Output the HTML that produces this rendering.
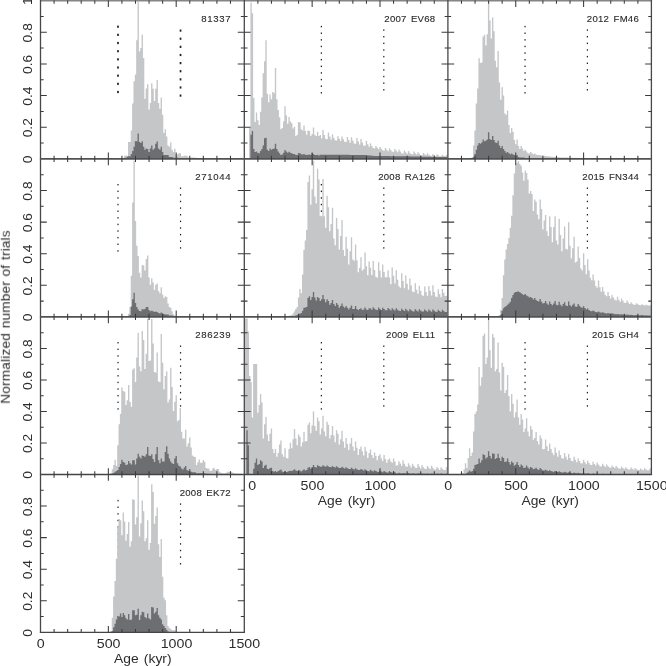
<!DOCTYPE html>
<html><head><meta charset="utf-8"><title>Age histograms</title>
<style>html,body{margin:0;padding:0;background:#fff;}svg{display:block;}text{font-family:"Liberation Sans",sans-serif;fill:#2b2b2d;}</style></head>
<body>
<svg width="666" height="666" viewBox="0 0 666 666">
<rect x="0" y="0" width="666" height="666" fill="#ffffff"/>
<g id="dots" fill="#1f1f21">
<rect x="117.13" y="25.6" width="1.7" height="2.2"/><rect x="117.13" y="33.76" width="1.7" height="2.2"/><rect x="117.13" y="41.92" width="1.7" height="2.2"/><rect x="117.13" y="50.09" width="1.7" height="2.2"/><rect x="117.13" y="58.25" width="1.7" height="2.2"/><rect x="117.13" y="66.41" width="1.7" height="2.2"/><rect x="117.13" y="74.58" width="1.7" height="2.2"/><rect x="117.13" y="82.74" width="1.7" height="2.2"/><rect x="117.13" y="90.9" width="1.7" height="2.2"/><rect x="179.69" y="29.5" width="1.7" height="2.2"/><rect x="179.69" y="37.62" width="1.7" height="2.2"/><rect x="179.69" y="45.75" width="1.7" height="2.2"/><rect x="179.69" y="53.88" width="1.7" height="2.2"/><rect x="179.69" y="62" width="1.7" height="2.2"/><rect x="179.69" y="70.12" width="1.7" height="2.2"/><rect x="179.69" y="78.25" width="1.7" height="2.2"/><rect x="179.69" y="86.38" width="1.7" height="2.2"/><rect x="179.69" y="94.5" width="1.7" height="2.2"/>
<rect x="320.78" y="25.88" width="1.2" height="1.45"/><rect x="320.78" y="32.49" width="1.2" height="1.45"/><rect x="320.78" y="39.12" width="1.2" height="1.45"/><rect x="320.78" y="45.73" width="1.2" height="1.45"/><rect x="320.78" y="52.35" width="1.2" height="1.45"/><rect x="320.78" y="58.97" width="1.2" height="1.45"/><rect x="320.78" y="65.59" width="1.2" height="1.45"/><rect x="320.78" y="72.22" width="1.2" height="1.45"/><rect x="320.78" y="78.84" width="1.2" height="1.45"/><rect x="320.78" y="85.46" width="1.2" height="1.45"/><rect x="320.78" y="92.07" width="1.2" height="1.45"/><rect x="383.2" y="29.38" width="1.2" height="1.45"/><rect x="383.2" y="36.01" width="1.2" height="1.45"/><rect x="383.2" y="42.64" width="1.2" height="1.45"/><rect x="383.2" y="49.27" width="1.2" height="1.45"/><rect x="383.2" y="55.91" width="1.2" height="1.45"/><rect x="383.2" y="62.54" width="1.2" height="1.45"/><rect x="383.2" y="69.18" width="1.2" height="1.45"/><rect x="383.2" y="75.81" width="1.2" height="1.45"/><rect x="383.2" y="82.44" width="1.2" height="1.45"/><rect x="383.2" y="89.08" width="1.2" height="1.45"/>
<rect x="524.45" y="25.88" width="1.2" height="1.45"/><rect x="524.45" y="32.49" width="1.2" height="1.45"/><rect x="524.45" y="39.12" width="1.2" height="1.45"/><rect x="524.45" y="45.73" width="1.2" height="1.45"/><rect x="524.45" y="52.35" width="1.2" height="1.45"/><rect x="524.45" y="58.97" width="1.2" height="1.45"/><rect x="524.45" y="65.59" width="1.2" height="1.45"/><rect x="524.45" y="72.22" width="1.2" height="1.45"/><rect x="524.45" y="78.84" width="1.2" height="1.45"/><rect x="524.45" y="85.46" width="1.2" height="1.45"/><rect x="524.45" y="92.07" width="1.2" height="1.45"/><rect x="586.8" y="29.38" width="1.2" height="1.45"/><rect x="586.8" y="36.01" width="1.2" height="1.45"/><rect x="586.8" y="42.64" width="1.2" height="1.45"/><rect x="586.8" y="49.27" width="1.2" height="1.45"/><rect x="586.8" y="55.91" width="1.2" height="1.45"/><rect x="586.8" y="62.54" width="1.2" height="1.45"/><rect x="586.8" y="69.18" width="1.2" height="1.45"/><rect x="586.8" y="75.81" width="1.2" height="1.45"/><rect x="586.8" y="82.44" width="1.2" height="1.45"/><rect x="586.8" y="89.08" width="1.2" height="1.45"/>
<rect x="117.38" y="183.97" width="1.2" height="1.45"/><rect x="117.38" y="190.59" width="1.2" height="1.45"/><rect x="117.38" y="197.22" width="1.2" height="1.45"/><rect x="117.38" y="203.83" width="1.2" height="1.45"/><rect x="117.38" y="210.45" width="1.2" height="1.45"/><rect x="117.38" y="217.07" width="1.2" height="1.45"/><rect x="117.38" y="223.69" width="1.2" height="1.45"/><rect x="117.38" y="230.31" width="1.2" height="1.45"/><rect x="117.38" y="236.93" width="1.2" height="1.45"/><rect x="117.38" y="243.55" width="1.2" height="1.45"/><rect x="117.38" y="250.17" width="1.2" height="1.45"/><rect x="179.94" y="187.47" width="1.2" height="1.45"/><rect x="179.94" y="194.11" width="1.2" height="1.45"/><rect x="179.94" y="200.74" width="1.2" height="1.45"/><rect x="179.94" y="207.38" width="1.2" height="1.45"/><rect x="179.94" y="214.01" width="1.2" height="1.45"/><rect x="179.94" y="220.64" width="1.2" height="1.45"/><rect x="179.94" y="227.28" width="1.2" height="1.45"/><rect x="179.94" y="233.91" width="1.2" height="1.45"/><rect x="179.94" y="240.54" width="1.2" height="1.45"/><rect x="179.94" y="247.17" width="1.2" height="1.45"/>
<rect x="320.78" y="183.97" width="1.2" height="1.45"/><rect x="320.78" y="190.59" width="1.2" height="1.45"/><rect x="320.78" y="197.22" width="1.2" height="1.45"/><rect x="320.78" y="203.83" width="1.2" height="1.45"/><rect x="320.78" y="210.45" width="1.2" height="1.45"/><rect x="320.78" y="217.07" width="1.2" height="1.45"/><rect x="320.78" y="223.69" width="1.2" height="1.45"/><rect x="320.78" y="230.31" width="1.2" height="1.45"/><rect x="320.78" y="236.93" width="1.2" height="1.45"/><rect x="320.78" y="243.55" width="1.2" height="1.45"/><rect x="320.78" y="250.17" width="1.2" height="1.45"/><rect x="383.2" y="187.47" width="1.2" height="1.45"/><rect x="383.2" y="194.11" width="1.2" height="1.45"/><rect x="383.2" y="200.74" width="1.2" height="1.45"/><rect x="383.2" y="207.38" width="1.2" height="1.45"/><rect x="383.2" y="214.01" width="1.2" height="1.45"/><rect x="383.2" y="220.64" width="1.2" height="1.45"/><rect x="383.2" y="227.28" width="1.2" height="1.45"/><rect x="383.2" y="233.91" width="1.2" height="1.45"/><rect x="383.2" y="240.54" width="1.2" height="1.45"/><rect x="383.2" y="247.17" width="1.2" height="1.45"/>
<rect x="586.8" y="187.47" width="1.2" height="1.45"/><rect x="586.8" y="194.11" width="1.2" height="1.45"/><rect x="586.8" y="200.74" width="1.2" height="1.45"/><rect x="586.8" y="207.38" width="1.2" height="1.45"/><rect x="586.8" y="214.01" width="1.2" height="1.45"/><rect x="586.8" y="220.64" width="1.2" height="1.45"/><rect x="586.8" y="227.28" width="1.2" height="1.45"/><rect x="586.8" y="233.91" width="1.2" height="1.45"/><rect x="586.8" y="240.54" width="1.2" height="1.45"/><rect x="586.8" y="247.17" width="1.2" height="1.45"/>
<rect x="117.45" y="341.98" width="1.2" height="1.45"/><rect x="117.45" y="348.6" width="1.2" height="1.45"/><rect x="117.45" y="355.22" width="1.2" height="1.45"/><rect x="117.45" y="361.84" width="1.2" height="1.45"/><rect x="117.45" y="368.46" width="1.2" height="1.45"/><rect x="117.45" y="375.08" width="1.2" height="1.45"/><rect x="117.45" y="381.69" width="1.2" height="1.45"/><rect x="117.45" y="388.31" width="1.2" height="1.45"/><rect x="117.45" y="394.94" width="1.2" height="1.45"/><rect x="117.45" y="401.56" width="1.2" height="1.45"/><rect x="117.45" y="408.18" width="1.2" height="1.45"/><rect x="179.94" y="345.48" width="1.2" height="1.45"/><rect x="179.94" y="352.11" width="1.2" height="1.45"/><rect x="179.94" y="358.74" width="1.2" height="1.45"/><rect x="179.94" y="365.38" width="1.2" height="1.45"/><rect x="179.94" y="372.01" width="1.2" height="1.45"/><rect x="179.94" y="378.64" width="1.2" height="1.45"/><rect x="179.94" y="385.28" width="1.2" height="1.45"/><rect x="179.94" y="391.91" width="1.2" height="1.45"/><rect x="179.94" y="398.54" width="1.2" height="1.45"/><rect x="179.94" y="405.18" width="1.2" height="1.45"/>
<rect x="320.78" y="341.98" width="1.2" height="1.45"/><rect x="320.78" y="348.6" width="1.2" height="1.45"/><rect x="320.78" y="355.22" width="1.2" height="1.45"/><rect x="320.78" y="361.84" width="1.2" height="1.45"/><rect x="320.78" y="368.46" width="1.2" height="1.45"/><rect x="320.78" y="375.08" width="1.2" height="1.45"/><rect x="320.78" y="381.69" width="1.2" height="1.45"/><rect x="320.78" y="388.31" width="1.2" height="1.45"/><rect x="320.78" y="394.94" width="1.2" height="1.45"/><rect x="320.78" y="401.56" width="1.2" height="1.45"/><rect x="320.78" y="408.18" width="1.2" height="1.45"/><rect x="383.2" y="345.48" width="1.2" height="1.45"/><rect x="383.2" y="352.11" width="1.2" height="1.45"/><rect x="383.2" y="358.74" width="1.2" height="1.45"/><rect x="383.2" y="365.38" width="1.2" height="1.45"/><rect x="383.2" y="372.01" width="1.2" height="1.45"/><rect x="383.2" y="378.64" width="1.2" height="1.45"/><rect x="383.2" y="385.28" width="1.2" height="1.45"/><rect x="383.2" y="391.91" width="1.2" height="1.45"/><rect x="383.2" y="398.54" width="1.2" height="1.45"/><rect x="383.2" y="405.18" width="1.2" height="1.45"/>
<rect x="524.45" y="341.98" width="1.2" height="1.45"/><rect x="524.45" y="348.6" width="1.2" height="1.45"/><rect x="524.45" y="355.22" width="1.2" height="1.45"/><rect x="524.45" y="361.84" width="1.2" height="1.45"/><rect x="524.45" y="368.46" width="1.2" height="1.45"/><rect x="524.45" y="375.08" width="1.2" height="1.45"/><rect x="524.45" y="381.69" width="1.2" height="1.45"/><rect x="524.45" y="388.31" width="1.2" height="1.45"/><rect x="524.45" y="394.94" width="1.2" height="1.45"/><rect x="524.45" y="401.56" width="1.2" height="1.45"/><rect x="524.45" y="408.18" width="1.2" height="1.45"/><rect x="586.8" y="345.48" width="1.2" height="1.45"/><rect x="586.8" y="352.11" width="1.2" height="1.45"/><rect x="586.8" y="358.74" width="1.2" height="1.45"/><rect x="586.8" y="365.38" width="1.2" height="1.45"/><rect x="586.8" y="372.01" width="1.2" height="1.45"/><rect x="586.8" y="378.64" width="1.2" height="1.45"/><rect x="586.8" y="385.28" width="1.2" height="1.45"/><rect x="586.8" y="391.91" width="1.2" height="1.45"/><rect x="586.8" y="398.54" width="1.2" height="1.45"/><rect x="586.8" y="405.18" width="1.2" height="1.45"/>
<rect x="117.45" y="499.88" width="1.2" height="1.45"/><rect x="117.45" y="506.5" width="1.2" height="1.45"/><rect x="117.45" y="513.12" width="1.2" height="1.45"/><rect x="117.45" y="519.74" width="1.2" height="1.45"/><rect x="117.45" y="526.36" width="1.2" height="1.45"/><rect x="117.45" y="532.98" width="1.2" height="1.45"/><rect x="117.45" y="539.6" width="1.2" height="1.45"/><rect x="117.45" y="546.22" width="1.2" height="1.45"/><rect x="117.45" y="552.84" width="1.2" height="1.45"/><rect x="117.45" y="559.46" width="1.2" height="1.45"/><rect x="117.45" y="566.07" width="1.2" height="1.45"/><rect x="179.94" y="503.38" width="1.2" height="1.45"/><rect x="179.94" y="510.01" width="1.2" height="1.45"/><rect x="179.94" y="516.64" width="1.2" height="1.45"/><rect x="179.94" y="523.27" width="1.2" height="1.45"/><rect x="179.94" y="529.91" width="1.2" height="1.45"/><rect x="179.94" y="536.54" width="1.2" height="1.45"/><rect x="179.94" y="543.17" width="1.2" height="1.45"/><rect x="179.94" y="549.81" width="1.2" height="1.45"/><rect x="179.94" y="556.44" width="1.2" height="1.45"/><rect x="179.94" y="563.08" width="1.2" height="1.45"/>
</g>
<g id="hist" shape-rendering="auto">
<path fill="#c5c6c8" d="M121.24 158.9V158H122.6V158H123.96V155.7H125.31V155.7H126.67V155.7H128.03V141.9H129.38V141.9H130.74V130.5H132.1V103.6H133.46V81.2H134.81V74.6H136.17V40.2H137.53V2H138.88V51.6H140.24V48H141.6V34.8H142.95V58H144.31V98.7H145.67V88.5H147.03V84.2H148.38V109.4H149.74V102.9H151.1V83.2H152.45V88.7H153.81V101H155.17V88.7H156.53V80H157.88V103H159.24V108.8H160.6V97.4H161.95V114.8H163.31V132.9H164.67V129.2H166.02V136.5H167.38V145.5H168.74V146.7H170.09V142.5H171.45V149.7H172.81V152H174.17V148.7H175.52V154.5H176.88V154.5H178.24V153.3H179.59V153.3H180.95V156.3H182.31V156.3H183.66V155.7H185.02V155.7H186.38V155.7H187.74V157.5H189.09V157.5H190.45V157.5H191.81V157.5H193.16V157.61H194.52V157.75H195.88V157.87H197.24V157.97H198.59V158.08H199.95V158.18H201.31V158.9Z"/>
<path fill="#6d6e71" d="M125.31 158.9V157.73H126.67V156.82H128.03V156.3H129.38V156.3H130.74V153.9H132.1V150.9H133.46V146.7H134.81V141.3H136.17V141.3H137.53V133.5H138.88V141.9H140.24V143H141.6V141.3H142.95V146.7H144.31V149.7H145.67V148.5H147.03V149.1H148.38V152H149.74V148.5H151.1V145.5H152.45V149.7H153.81V148.5H155.17V143.7H156.53V141.5H157.88V148.5H159.24V149.7H160.6V146.7H161.95V152H163.31V155H164.67V155H166.02V155H167.38V155H168.74V156.9H170.09V156.9H171.45V156.9H172.81V157.8H174.17V157.8H175.52V157.8H176.88V157.87H178.24V158.03H179.59V158.9Z"/>
<path fill="#c5c6c8" d="M249.05 158.9V128H250.41V2.4H251.77V13.2H253.12V98H254.48V122H255.84V112.4H257.19V120.2H258.55V125H259.91V111.8H261.26V97.4H262.62V73.3H263.98V61.3H265.34V40.2H266.69V93.8H268.05V102.2H269.41V94.4H270.76V99.2H272.12V92H273.48V93.2H274.83V67.9H276.19V99.2H277.55V110H278.91V117.2H280.26V129.2H281.62V128H282.98V121.4H284.33V106.2H285.69V115.4H287.05V123.8H288.4V117H289.76V121.4H291.12V123.2H292.48V128.6H293.83V126.8H295.19V135.9H296.55V134.7H297.9V122H299.26V122.6H300.62V129.2H301.97V130.4H303.33V125.4H304.69V131H306.05V134.7H307.4V130.4H308.76V131H310.12V135.9H311.47V134H312.83V127.4H314.19V134.7H315.54V135.9H316.9V131.7H318.26V135.9H319.62V135.02H320.97V138.24H322.33V130.06H323.69V135.04H325.04V138.76H326.4V139.13H327.76V132.39H329.11V136.54H330.47V139.61H331.83V134.14H333.19V137.67H334.54V140.25H335.9V140.56H337.26V136.14H338.61V138.79H339.97V141.05H341.33V136.49H342.68V139.33H344.04V141.73H345.4V142.07H346.76V136.96H348.11V140.04H349.47V142.68H350.83V137.3H352.18V140.62H353.54V143.45H354.9V143.84H356.25V137.98H357.61V141.61H358.97V144.53H360.33V138.93H361.68V142.49H363.04V145.39H364.4V145.85H365.75V140.73H367.11V144.3H368.47V146.87H369.82V143.23H371.18V146.05H372.54V148.01H373.9V148.45H375.25V146.11H376.61V147.87H377.97V149.35H379.32V147.02H380.68V148.81H382.04V150.31H383.39V150.69H384.75V148.01H386.11V149.79H387.47V151.25H388.82V148.3H390.18V150.12H391.54V151.63H392.89V151.83H394.25V148.89H395.61V150.76H396.96V152.34H398.32V149.61H399.68V151.54H401.04V153.16H402.39V153.49H403.75V150.47H405.11V152.29H406.46V153.72H407.82V150.94H409.18V152.67H410.53V154.03H411.89V154.2H413.25V151.62H414.61V153.26H415.96V154.55H417.32V152.22H418.68V153.75H420.03V154.96H421.39V155.14H422.75V152.95H424.1V154.3H425.46V155.36H426.82V153.35H428.18V154.63H429.53V155.63H430.89V155.77H432.25V153.88H433.6V155.06H434.96V155.96H436.32V154.3H437.67V155.37H439.03V156.2H440.39V156.31H441.75V154.77H443.1V155.67H444.46V156.37H445.82V154.96H447.17V155.81H447.85V158.9Z"/>
<path fill="#6d6e71" d="M250.41 158.9V134.7H251.77V131H253.12V149H254.48V152H255.84V151.5H257.19V152.7H258.55V153.3H259.91V150.9H261.26V149H262.62V145.5H263.98V138.3H265.34V137.7H266.69V149.7H268.05V150.9H269.41V148.5H270.76V149.7H272.12V149H273.48V148.5H274.83V143.7H276.19V149H277.55V151.5H278.91V153.3H280.26V155H281.62V154.5H282.98V152.7H284.33V150H285.69V151.5H287.05V152.7H288.4V151.8H289.76V152.7H291.12V153.3H292.48V153.9H293.83V153.9H295.19V155H296.55V155H297.9V153H299.26V153.3H300.62V154.2H301.97V154.5H303.33V153.9H304.69V154.7H306.05V155H307.4V154.7H308.76V154.5H310.12V155H311.47V153.5H312.83V153.9H314.19V155H315.54V155H316.9V154.7H318.26V155.4H319.62V154.72H320.97V154.73H322.33V154.74H323.69V154.75H325.04V154.75H326.4V154.76H327.76V154.77H329.11V154.77H330.47V154.78H331.83V154.79H333.19V154.8H334.54V154.8H335.9V154.81H337.26V154.82H338.61V154.82H339.97V154.83H341.33V154.84H342.68V154.85H344.04V154.85H345.4V154.86H346.76V154.87H348.11V154.87H349.47V154.88H350.83V154.89H352.18V154.9H353.54V154.9H354.9V154.91H356.25V154.92H357.61V154.92H358.97V154.93H360.33V154.94H361.68V154.95H363.04V154.95H364.4V155.06H365.75V155.2H367.11V155.33H368.47V155.47H369.82V155.6H371.18V155.74H372.54V155.87H373.9V155.93H375.25V155.94H376.61V155.96H377.97V155.98H379.32V156H380.68V156.01H382.04V156.03H383.39V156.05H384.75V156.06H386.11V156.08H387.47V156.1H388.82V156.11H390.18V156.13H391.54V156.15H392.89V156.17H394.25V156.18H395.61V156.2H396.96V156.22H398.32V156.23H399.68V156.25H401.04V156.27H402.39V156.28H403.75V156.3H405.11V156.32H406.46V156.33H407.82V156.35H409.18V156.37H410.53V156.39H411.89V156.41H413.25V156.44H414.61V156.48H415.96V156.51H417.32V156.54H418.68V156.58H420.03V156.61H421.39V156.65H422.75V156.68H424.1V156.71H425.46V156.75H426.82V156.78H428.18V156.82H429.53V156.85H430.89V156.88H432.25V156.9H433.6V156.92H434.96V156.94H436.32V156.96H437.67V156.98H439.03V157H440.39V157.02H441.75V157.05H443.1V157.07H444.46V157.09H445.82V157.11H447.17V158.9Z"/>
<path fill="#c5c6c8" d="M471.65 158.9V156.9H473.01V145.5H474.36V130.5H475.72V103.4H477.08V88.4H478.43V58.3H479.79V63H481.15V62.5H482.5V36.6H483.86V34.8H485.22V45.6H486.58V34.2H487.93V2.4H489.29V20.4H490.65V38.4H492V17.4H493.36V31.2H494.72V60.7H496.07V67.3H497.43V51H498.79V82.4H500.15V99.8H501.5V87.2H502.86V95.6H504.22V113.6H505.57V114.8H506.93V110.6H508.29V125H509.65V132.9H511V128H512.36V131.7H513.72V140H515.07V144.3H516.43V139.5H517.79V146H519.14V149H520.5V146H521.86V148.5H523.21V150.9H524.57V149.7H525.93V151.5H527.29V153.3H528.64V153.5H530V152H531.36V153.3H532.71V154.2H534.07V153.5H535.43V154.5H536.78V155H538.14V154.95H539.5V155.27H540.86V155.51H542.21V155.68H543.57V155.85H544.93V156.02H546.28V156.19H547.64V156.36H549V156.53H550.35V156.68H551.71V156.78H553.07V156.89H554.43V156.99H555.78V157.09H557.14V157.2H558.5V157.3H559.85V157.38H561.21V157.42H562.57V157.46H563.92V157.51H565.28V157.55H566.64V157.6H568V157.64H569.35V157.68H570.71V157.73H572.07V157.77H573.42V157.81H574.78V157.85H576.14V157.86H577.49V157.88H578.85V157.9H580.21V157.91H581.57V157.93H582.92V157.95H584.28V157.96H585.64V157.98H586.99V158H588.35V158.02H589.71V158.03H591.06V158.05H592.42V158.07H593.78V158.08H595.14V158.09H596.49V158.09H597.85V158.1H599.21V158.1H600.56V158.11H601.92V158.11H603.28V158.12H604.63V158.13H605.99V158.13H607.35V158.14H608.71V158.14H610.06V158.15H611.42V158.15H612.78V158.16H614.13V158.17H615.49V158.17H616.85V158.18H618.2V158.18H619.56V158.9Z"/>
<path fill="#6d6e71" d="M473.01 158.9V156.9H474.36V153.9H475.72V149.7H477.08V145.5H478.43V143H479.79V143.7H481.15V142.5H482.5V139.5H483.86V141.3H485.22V140.7H486.58V139.5H487.93V132.3H489.29V138.9H490.65V140H492V135.9H493.36V140H494.72V142.5H496.07V143H497.43V140.7H498.79V145.5H500.15V147.9H501.5V146H502.86V149H504.22V150.9H505.57V152.7H506.93V152H508.29V153.3H509.65V154.2H511V153.5H512.36V154.5H513.72V155H515.07V155.7H516.43V155H517.79V156.9H519.14V157.5H520.5V157.5H521.86V157.5H523.21V157.5H524.57V158.13H525.93V158.9Z"/>
<path fill="#c5c6c8" d="M126.67 316.9V316.1H128.03V313.7H129.38V307H130.74V275.8H132.1V202.4H133.46V160.6H134.81V221H136.17V245.8H137.53V256H138.88V272.8H140.24V277.6H141.6V265H142.95V265.6H144.31V270.4H145.67V259H147.03V255.4H148.38V277.6H149.74V284.8H151.1V278.2H152.45V282.4H153.81V289.7H155.17V284.8H156.53V283.4H157.88V290.9H159.24V293.3H160.6V287.2H161.95V294.5H163.31V298H164.67V296.3H166.02V296.9H167.38V303.5H168.74V307H170.09V307.7H171.45V311.3H172.81V314.3H174.17V315.6H175.52V316H176.88V316.9Z"/>
<path fill="#6d6e71" d="M129.38 316.9V314.9H130.74V306.5H132.1V299.3H133.46V292.7H134.81V302.9H136.17V307H137.53V309.5H138.88V311H140.24V311.3H141.6V308.9H142.95V309.5H144.31V308.9H145.67V307H147.03V307H148.38V310H149.74V311.3H151.1V310.7H152.45V311.3H153.81V311.9H155.17V311.5H156.53V311.9H157.88V313H159.24V313.4H160.6V312.5H161.95V313.4H163.31V313.9H164.67V314.6H166.02V314.6H167.38V314.6H168.74V315.5H170.09V315.5H171.45V315.5H172.81V316.2H174.17V316.9Z"/>
<path fill="#c5c6c8" d="M287.05 316.9V316.2H288.4V315.8H289.76V315.4H291.12V314.9H292.48V313.5H293.83V311.3H295.19V308.9H296.55V307H297.9V297.5H299.26V289H300.62V293.3H301.97V274.6H303.33V250H304.69V240.4H306.05V230H307.4V182H308.76V175.4H310.12V204.8H311.47V189.2H312.83V160.8H314.19V196.4H315.54V203.6H316.9V168.8H318.26V179.6H319.62V215.7H320.97V216.3H322.33V179H323.69V216.3H325.04V227.7H326.4V195.8H327.76V207.2H329.11V231.3H330.47V224H331.83V207.8H333.19V238.6H334.54V245.2H335.9V218H337.26V228.9H338.61V249.4H339.97V236H341.33V219.9H342.68V250H344.04V256H345.4V236.7H346.76V248.8H348.11V264.4H349.47V251.2H350.83V237.3H352.18V259.6H353.54V260.8H354.9V244.6H356.25V260.2H357.61V272.2H358.97V268H360.33V257.2H361.68V270.4H363.04V269.2H364.4V252.4H365.75V266.2H367.11V275.2H368.47V261.4H369.82V267.64H371.18V274.92H372.54V261.09H373.9V269.95H375.25V276.85H376.61V277.77H377.97V262.3H379.32V270.85H380.68V277.57H382.04V264.61H383.39V272.12H384.75V277.16H386.11V277.21H387.47V270.53H388.82V277.38H390.18V284.3H391.54V267.47H392.89V275.86H394.25V283.55H395.61V270.28H396.96V279.72H398.32V286.25H399.68V287.78H401.04V273.36H402.39V281H403.75V288.31H405.11V275.46H406.46V283.81H407.82V289.84H409.18V278.45H410.53V285.6H411.89V291.4H413.25V292.14H414.61V283.22H415.96V289.63H417.32V293.84H418.68V285.83H420.03V290.74H421.39V295.22H422.75V295.8H424.1V286.44H425.46V292.06H426.82V295.84H428.18V286.11H429.53V290.77H430.89V295.45H432.25V285.21H433.6V291.98H434.96V296.6H436.32V297.09H437.67V289.29H439.03V293.98H440.39V297.17H441.75V289.05H443.1V292.78H444.46V295.99H445.82V295.8H447.17V316.9Z"/>
<path fill="#6d6e71" d="M293.83 316.9V316.1H295.19V315.6H296.55V314.9H297.9V313.9H299.26V313.7H300.62V313H301.97V310.7H303.33V307.7H304.69V307.4H306.05V307H307.4V298H308.76V296.3H310.12V299.9H311.47V296.9H312.83V292H314.19V297.5H315.54V300.5H316.9V296.9H318.26V298H319.62V301H320.97V299.3H322.33V295H323.69V299.3H325.04V302.3H326.4V299.3H327.76V301H329.11V304.7H330.47V302.9H331.83V299.9H333.19V304H334.54V305.9H335.9V302.9H337.26V304.7H338.61V307.7H339.97V305.9H341.33V303.5H342.68V306.5H344.04V307.7H345.4V305.9H346.76V307.7H348.11V309.5H349.47V307.7H350.83V305.5H352.18V308.9H353.54V308.9H354.9V305.9H356.25V308.9H357.61V310H358.97V308.9H360.33V308.3H361.68V310H363.04V309.5H364.4V307.4H365.75V309.5H367.11V310H368.47V308.3H369.82V308.57H371.18V309.68H372.54V307.36H373.9V308.73H375.25V309.84H376.61V309.95H377.97V307.57H379.32V308.95H380.68V310.06H382.04V307.74H383.39V309.11H384.75V310.22H386.11V310.33H387.47V307.95H388.82V309.34H390.18V310.44H391.54V308.16H392.89V309.52H394.25V310.61H395.61V308.36H396.96V309.7H398.32V310.78H399.68V310.88H401.04V308.63H402.39V309.95H403.75V311H405.11V308.84H406.46V310.13H407.82V311.17H409.18V309.04H410.53V310.31H411.89V311.32H413.25V311.4H414.61V309.22H415.96V310.45H417.32V311.43H418.68V309.3H420.03V310.53H421.39V311.52H422.75V311.59H424.1V309.41H425.46V310.64H426.82V311.63H428.18V309.49H429.53V310.72H430.89V311.71H432.25V309.58H433.6V310.81H434.96V311.8H436.32V311.87H437.67V309.69H439.03V310.92H440.39V311.91H441.75V309.77H443.1V311H444.46V311.99H445.82V312.07H447.17V316.9Z"/>
<path fill="#c5c6c8" d="M497.43 316.9V316H498.79V314.9H500.15V310H501.5V298H502.86V275.2H504.22V259.6H505.57V249.4H506.93V244H508.29V238H509.65V227.7H511V215.7H512.36V195.2H513.72V173.6H515.07V165.2H516.43V162.8H517.79V161H519.14V164H520.5V165.8H521.86V172.4H523.21V180.8H524.57V170.6H525.93V173H527.29V179.6H528.64V193.4H530V191H531.36V194H532.71V210.9H534.07V199.4H535.43V201.8H536.78V214.5H538.14V219.3H539.5V199.4H540.86V209H542.21V229.5H543.57V220.5H544.93V215H546.28V231.3H547.64V236H549V216.3H550.35V227H551.71V242.2H553.07V227H554.43V216.3H555.78V240.4H557.14V244.6H558.5V218.7H559.85V234.9H561.21V251.2H562.57V238.6H563.92V226.5H565.28V248.8H566.64V249.4H568V222.3H569.35V245.8H570.71V258.4H572.07V248.2H573.42V236.7H574.78V262.6H576.14V261.4H577.49V246.4H578.85V257.94H580.21V268.6H581.57V270.45H582.92V253.24H584.28V265.06H585.64V274.15H586.99V259.35H588.35V270.46H589.71V277.86H591.06V280.26H592.42V274.53H593.78V280.4H595.14V285.97H596.49V287.74H597.85V280.42H599.21V287.23H600.56V291.85H601.92V287.05H603.28V291.39H604.63V295.07H605.99V296.34H607.35V291.9H608.71V295.91H610.06V298.48H611.42V295.04H612.78V297.51H614.13V299.85H615.49V300.61H616.85V296.87H618.2V299.8H619.56V301.86H620.92V298.62H622.28V300.82H623.63V302.65H624.99V303.07H626.35V300.41H627.7V302.55H629.06V304.03H630.42V302.2H631.77V303.68H633.13V304.69H634.49V304.82H635.85V303.31H637.2V304.28H638.56V305.09H639.92V305.27H641.27V304.19H642.63V305.04H643.99V305.47H645.34V304.83H646.7V305.19H648.06V305.47H649.42V305.49H650.77V304.83H651.45V316.9Z"/>
<path fill="#6d6e71" d="M498.79 316.9V316.1H500.15V314.9H501.5V310.7H502.86V308.3H504.22V307H505.57V305.9H506.93V304.7H508.29V303.5H509.65V301.7H511V298H512.36V295H513.72V292.7H515.07V292H516.43V291.8H517.79V291.5H519.14V292.3H520.5V293.3H521.86V294.2H523.21V295H524.57V293.9H525.93V295.4H527.29V296.3H528.64V297.5H530V297H531.36V298H532.71V299.5H534.07V298H535.43V299.9H536.78V301H538.14V301.4H539.5V299H540.86V301.7H542.21V303.5H543.57V302.9H544.93V301H546.28V303.5H547.64V304.7H549V301.4H550.35V304H551.71V305.3H553.07V303.5H554.43V301H555.78V304.7H557.14V305.3H558.5V301.7H559.85V304.7H561.21V306.2H562.57V304H563.92V302.3H565.28V305.5H566.64V305.9H568V301.4H569.35V305.3H570.71V306.5H572.07V304.7H573.42V303.5H574.78V306.5H576.14V306.7H577.49V304H578.85V305.67H580.21V307.32H581.57V307.87H582.92V306.23H584.28V308.05H585.64V309.47H586.99V308.51H588.35V310.01H589.71V310.92H591.06V311.23H592.42V310.42H593.78V311.33H595.14V312.05H596.49V312.29H597.85V311.62H599.21V312.27H600.56V312.79H601.92V312.23H603.28V312.82H604.63V313.31H605.99V313.47H607.35V312.95H608.71V313.41H610.06V313.79H611.42V313.36H612.78V313.78H614.13V314.12H615.49V314.24H616.85V313.9H618.2V314.24H619.56V314.52H620.92V314.17H622.28V314.49H623.63V314.76H624.99V314.85H626.35V314.49H627.7V314.81H629.06V315.09H630.42V314.71H631.77V314.98H633.13V315.2H634.49V315.24H635.85V314.89H637.2V315.13H638.56V315.32H639.92V315.36H641.27V315.07H642.63V315.28H643.99V315.45H645.34V315.21H646.7V315.4H648.06V315.54H649.42V315.58H650.77V315.39H651.45V316.9Z"/>
<path fill="#c5c6c8" d="M109.03 474.5V474H110.39V472.9H111.74V469.3H113.1V465H114.46V459.7H115.81V465.7H117.17V445.2H118.53V424.2H119.89V414H121.24V387.5H122.6V391H123.96V391.7H125.31V405H126.67V400.2H128.03V385H129.38V402H130.74V406.8H132.1V369.5H133.46V368.3H134.81V382H136.17V357.4H137.53V332.8H138.88V366.5H140.24V371.3H141.6V331H142.95V340H144.31V368.9H145.67V353.8H147.03V319H148.38V361H149.74V360.4H151.1V319H152.45V343.6H153.81V371.9H155.17V372.5H156.53V352.6H157.88V381.5H159.24V382H160.6V334H161.95V362.8H163.31V389.3H164.67V376H166.02V371.3H167.38V402.6H168.74V399.6H170.09V367.7H171.45V386.9H172.81V411H174.17V402H175.52V395.3H176.88V421.2H178.24V420H179.59V408H180.95V431.8H182.31V438.6H183.66V438.6H185.02V429.7H186.38V446.5H187.74V443.3H189.09V437.5H190.45V447.5H191.81V455.4H193.16V456.5H194.52V457H195.88V464.9H197.24V462.2H198.59V459.6H199.95V462.8H201.31V462.8H202.66V460H204.02V461.7H205.38V468H206.73V468.6H208.09V468.6H209.45V470.7H210.81V470.7H212.16V468.6H213.52V468H214.88V470H216.23V469H217.59V469H218.95V471.7H220.3V472.8H221.66V473.3H223.02V473.3H224.38V473.3H225.73V472.8H227.09V471.7H228.45V471.7H229.8V471.7H231.16V471.7H232.52V473.3H233.87V473.3H235.23V473.8H236.59V473.8H237.94V473.8H239.3V473.8H240.66V473.8H242.02V474H243.37V474H244.05V474.5Z"/>
<path fill="#6d6e71" d="M111.74 474.5V473.6H113.1V472.9H114.46V471.7H115.81V471H117.17V469.9H118.53V466.9H119.89V463.9H121.24V459.7H122.6V462H123.96V462.7H125.31V465H126.67V464.5H128.03V460.9H129.38V463.3H130.74V464.5H132.1V460.3H133.46V460.3H134.81V464.5H136.17V458.5H137.53V453.7H138.88V456.7H140.24V458.5H141.6V455.5H142.95V456H144.31V456.7H145.67V454.3H147.03V447H148.38V455.5H149.74V456H151.1V454.3H152.45V459H153.81V462H155.17V454.3H156.53V447H157.88V460.3H159.24V463.3H160.6V458.5H161.95V461.5H163.31V461.5H164.67V451.9H166.02V446.2H167.38V453.7H168.74V458.5H170.09V461.5H171.45V463.3H172.81V463.9H174.17V458.5H175.52V456H176.88V463.3H178.24V465.7H179.59V466.5H180.95V468.6H182.31V469.6H183.66V467.5H185.02V465.9H186.38V470H187.74V470.7H189.09V469H190.45V471.7H191.81V472.2H193.16V472.2H194.52V472.2H195.88V473.3H197.24V473.3H198.59V473.3H199.95V473.3H201.31V473.3H202.66V473.3H204.02V473.3H205.38V473.8H206.73V473.8H208.09V473.8H209.45V474H210.81V474H212.16V474.5Z"/>
<path fill="#c5c6c8" d="M244.98 474.5V318.4H246.34V318.4H247.69V331.6H249.05V376H250.41V382H251.77V417.6H253.12V364H254.48V364H255.84V364H257.19V412.8H258.55V405H259.91V394H261.26V402.6H262.62V438.6H263.98V424.2H265.34V417H266.69V434.4H268.05V441H269.41V433.8H270.76V428.4H272.12V448.9H273.48V453H274.83V448.9H276.19V456.7H277.55V453H278.91V444.6H280.26V440.4H281.62V454.3H282.98V456.7H284.33V448.3H285.69V457.9H287.05V458.5H288.4V448.9H289.76V442.8H291.12V448.3H292.48V439.2H293.83V429H295.19V438.6H296.55V445.2H297.9V434.4H299.26V436.8H300.62V446.5H301.97V442.2H303.33V432H304.69V441.6H306.05V441H307.4V424.8H308.76V422.4H310.12V433.2H311.47V425.4H312.83V411.6H314.19V426H315.54V430.8H316.9V417.6H318.26V421.2H319.62V434.4H320.97V428.4H322.33V415.8H323.69V431.4H325.04V436.2H326.4V421.8H327.76V424.8H329.11V438.6H330.47V435H331.83V426H333.19V435.6H334.54V442.2H335.9V430.2H337.26V433.8H338.61V444.6H339.97V439.2H341.33V430.8H342.68V441.6H344.04V447.7H345.4V438H346.76V444H348.11V450.1H349.47V443.4H350.83V438H352.18V446.5H353.54V450.7H354.9V441.6H356.25V447.7H357.61V454.9H358.97V448.9H360.33V446.5H361.68V451.3H363.04V455.5H364.4V447.1H365.75V451.3H367.11V457.9H368.47V453.1H369.82V449.5H371.18V454.9H372.54V457.9H373.9V452.5H375.25V456.1H376.61V460.3H377.97V456.1H379.32V454.3H380.68V458.5H382.04V460.9H383.39V454.9H384.75V459.1H386.11V462.7H387.47V459.7H388.82V458.5H390.18V461.5H391.54V462.7H392.89V458.5H394.25V461.5H395.61V465.39H396.96V465.22H398.32V461.3H399.68V463.46H401.04V465.65H402.39V460.22H403.75V463.83H405.11V466.33H406.46V466.73H407.82V463.14H409.18V465.49H410.53V467.43H411.89V463.75H413.25V465.94H414.61V467.82H415.96V468.04H417.32V463.91H418.68V466.46H420.03V468.39H421.39V464.93H422.75V467.18H424.1V468.86H425.46V469.09H426.82V466.1H428.18V467.8H429.53V469.36H430.89V465.69H432.25V467.87H433.6V469.42H434.96V469.58H436.32V466.96H437.67V468.6H439.03V469.93H440.39V467.35H441.75V468.79H443.1V469.95H444.46V470H445.82V467.35H447.17V474.5Z"/>
<path fill="#6d6e71" d="M246.34 474.5V430.2H247.69V445.2H249.05V474.5ZM253.12 474.5V468.7H254.48V462.7H255.84V458.5H257.19V465H258.55V463.9H259.91V460.3H261.26V461.5H262.62V468H263.98V465.7H265.34V464.7H266.69V468.7H268.05V469.3H269.41V468H270.76V467.8H272.12V471H273.48V471.7H274.83V471H276.19V471.9H277.55V471H278.91V470.2H280.26V469.5H281.62V471.4H282.98V471.9H284.33V471H285.69V471.9H287.05V471.7H288.4V471H289.76V470.7H291.12V471H292.48V470.2H293.83V469.3H295.19V470.5H296.55V471H297.9V469.9H299.26V470.5H300.62V471.4H301.97V470.5H303.33V469.3H304.69V470.5H306.05V469.9H307.4V467.8H308.76V466.9H310.12V468.7H311.47V466.9H312.83V465H314.19V466.9H315.54V467.5H316.9V465.2H318.26V466.1H319.62V466.7H320.97V466.7H322.33V465.3H323.69V466.2H325.04V466.8H326.4V465.4H327.76V466.4H329.11V467.1H330.47V467.2H331.83V465.9H333.19V466.9H334.54V467.6H335.9V466.3H337.26V467.2H338.61V468H339.97V468.1H341.33V466.8H342.68V467.8H344.04V468.5H345.4V467.2H346.76V468.2H348.11V468.9H349.47V469.1H350.83V467.8H352.18V468.8H353.54V469.5H354.9V468.2H356.25V469.2H357.61V470H358.97V470.1H360.33V468.9H361.68V469.8H363.04V470.6H364.4V469.3H365.75V470.3H367.11V471.1H368.47V471.2H369.82V469.8H371.18V470.8H372.54V471.5H373.9V470.2H375.25V471.1H376.61V471.8H377.97V471.9H379.32V470.6H380.68V471.6H382.04V472.2H383.39V470.9H384.75V471.8H386.11V472.4H387.47V472.5H388.82V471.1H390.18V472.1H391.54V472.7H392.89V471.4H394.25V472.3H395.61V473.45H396.96V473.44H398.32V472.83H399.68V473.24H401.04V473.55H402.39V472.96H403.75V473.33H405.11V473.62H406.46V473.65H407.82V473.12H409.18V473.45H410.53V473.7H411.89V473.23H413.25V473.53H414.61V473.76H415.96V473.8H417.32V473.37H418.68V473.62H420.03V473.82H421.39V473.4H422.75V473.65H424.1V473.85H425.46V473.87H426.82V473.44H428.18V473.69H429.53V473.9H430.89V473.47H432.25V473.72H433.6V473.93H434.96V473.95H436.32V473.52H437.67V473.77H439.03V473.97H440.39V473.55H441.75V473.8H443.1V474H444.46V474.02H445.82V473.59H447.17V474.5Z"/>
<path fill="#c5c6c8" d="M460.79 474.5V474.1H462.15V473H463.51V469.3H464.86V463.3H466.22V468H467.58V457.9H468.94V448.3H470.29V456H471.65V452.5H473.01V431.4H474.36V414H475.72V411.6H477.08V404.4H478.43V367H479.79V385.7H481.15V377.3H482.5V335.8H483.86V333.4H485.22V364H486.58V357.4H487.93V318.8H489.29V350.2H490.65V367.7H492V334H493.36V337.6H494.72V371.3H496.07V368.9H497.43V342.4H498.79V372.5H500.15V390.5H501.5V362.8H502.86V367H504.22V392.9H505.57V389.9H506.93V374.9H508.29V396H509.65V411.6H511V394H512.36V403.8H513.72V417.6H515.07V412.2H516.43V399.6H517.79V417.6H519.14V424.8H520.5V414H521.86V419.4H523.21V432H524.57V428.4H525.93V418.2H527.29V431.4H528.64V436.2H530V426H531.36V429.6H532.71V439.8H534.07V438H535.43V432H536.78V441H538.14V444.6H539.5V435.6H540.86V438.6H542.21V449.37H543.57V449.11H544.93V439.62H546.28V446.19H547.64V451.08H549V443.59H550.35V448.91H551.71V453.06H553.07V455.27H554.43V447.45H555.78V452.8H557.14V456.8H558.5V450.51H559.85V454.88H561.21V458.3H562.57V458.81H563.92V453.08H565.28V456.73H566.64V459.71H568V454.1H569.35V457.89H570.71V460.79H572.07V461.28H573.42V456.71H574.78V459.79H576.14V462.23H577.49V458.13H578.85V460.99H580.21V463.28H581.57V463.59H582.92V459.75H584.28V462.23H585.64V464.16H586.99V460.77H588.35V463.02H589.71V464.8H591.06V465.08H592.42V461.86H593.78V463.93H595.14V465.62H596.49V462.47H597.85V464.58H599.21V466.26H600.56V466.54H601.92V463.77H603.28V465.59H604.63V467.07H605.99V464.38H607.35V466.14H608.71V467.51H610.06V467.72H611.42V465.43H612.78V466.92H614.13V468.1H615.49V466.04H616.85V467.42H618.2V468.51H619.56V468.7H620.92V466.62H622.28V467.99H623.63V469.07H624.99V467.23H626.35V468.47H627.7V469.48H629.06V469.61H630.42V467.58H631.77V468.82H633.13V469.78H634.49V467.98H635.85V469.13H637.2V470.01H638.56V470.12H639.92V468.52H641.27V469.45H642.63V470.27H643.99V468.36H645.34V469.39H646.7V470.25H648.06V470.29H649.42V468.14H650.77V469.28H651.45V474.5Z"/>
<path fill="#6d6e71" d="M466.22 474.5V473H467.58V471.7H468.94V470.5H470.29V471.7H471.65V471H473.01V468.7H474.36V465H475.72V464.5H477.08V463.9H478.43V458.5H479.79V462.7H481.15V460.3H482.5V454.3H483.86V454.9H485.22V458.5H486.58V457.3H487.93V451.3H489.29V456H490.65V458.5H492V453.4H493.36V453.7H494.72V459H496.07V457.9H497.43V453.7H498.79V457.9H500.15V460.9H501.5V456.7H502.86V457.9H504.22V462H505.57V461.5H506.93V458.5H508.29V462H509.65V464.5H511V461.5H512.36V462.7H513.72V465.7H515.07V464.5H516.43V462H517.79V465H519.14V466.9H520.5V464.5H521.86V465.7H523.21V468H524.57V467.5H525.93V465.4H527.29V467.5H528.64V468.7H530V466.9H531.36V467.8H532.71V469.3H534.07V468.7H535.43V467.8H536.78V469.3H538.14V469.9H539.5V468H540.86V469.3H542.21V470.53H543.57V470.61H544.93V469.73H546.28V470.49H547.64V471.1H549V470.33H550.35V471.04H551.71V471.62H553.07V471.81H554.43V471.05H555.78V471.62H557.14V472.09H558.5V471.37H559.85V471.93H561.21V472.38H562.57V472.49H563.92V471.8H565.28V472.33H566.64V472.77H568V472.13H569.35V472.64H570.71V473.06H572.07V473.15H573.42V472.5H574.78V472.95H576.14V473.31H577.49V472.71H578.85V473.15H580.21V473.5H581.57V473.57H582.92V473H584.28V473.41H585.64V473.74H586.99V473.21H588.35V473.61H589.71V473.91H591.06V473.95H592.42V473.44H593.78V473.77H595.14V474.02H596.49V473.59H597.85V473.88H599.21V474.1H600.56V474.13H601.92V473.78H603.28V474.02H604.63V474.2H605.99V473.92H607.35V474.13H608.71V474.2H610.06V474.2H611.42V473.98H612.78V474.14H614.13V474.2H615.49V474H616.85V474.15H618.2V474.2H619.56V474.2H620.92V474.02H622.28V474.17H623.63V474.5ZM624.99 474.5V474.03H626.35V474.18H627.7V474.5ZM630.42 474.5V474.05H631.77V474.19H633.13V474.5ZM634.49 474.5V474.07H635.85V474.2H637.2V474.5ZM639.92 474.5V474.09H641.27V474.2H642.63V474.5ZM643.99 474.5V474.1H645.34V474.2H646.7V474.5ZM649.42 474.5V474.12H650.77V474.2H651.45V474.5Z"/>
<path fill="#c5c6c8" d="M109.03 632.3V632H110.39V630.9H111.74V617.7H113.1V596.6H114.46V581H115.81V558.8H117.17V526.9H118.53V519H119.89V520.2H121.24V535.3H122.6V512.4H123.96V521.4H125.31V540.7H126.67V534H128.03V522H129.38V546.7H130.74V541.3H132.1V499.2H133.46V499.8H134.81V524.4H136.17V517.2H137.53V475.76H138.88V536.5H140.24V523.2H141.6V500.4H142.95V511.2H144.31V541.3H145.67V538.3H147.03V520.2H148.38V549.7H149.74V543H151.1V484.2H152.45V492H153.81V523.8H155.17V516H156.53V507.6H157.88V544.3H159.24V557H160.6V538.9H161.95V576.8H163.31V597.8H164.67V600.2H166.02V615.3H167.38V626H168.74V627.9H170.09V629H171.45V630.3H172.81V630.3H174.17V630.3H175.52V631.5H176.88V632H178.24V632.3Z"/>
<path fill="#6d6e71" d="M111.74 632.3V630.9H113.1V627.3H114.46V623.7H115.81V619.5H117.17V615.9H118.53V616.5H119.89V613.5H121.24V617H122.6V612.9H123.96V615.3H125.31V618.3H126.67V619.5H128.03V614H129.38V620H130.74V619.5H132.1V610.2H133.46V610.2H134.81V615.3H136.17V614.7H137.53V608.7H138.88V620H140.24V615.3H141.6V611.7H142.95V612.3H144.31V617H145.67V618.3H147.03V613.5H148.38V618.3H149.74V619.5H151.1V606.9H152.45V607.5H153.81V613.5H155.17V611.7H156.53V608H157.88V615.3H159.24V617.7H160.6V619.5H161.95V624.3H163.31V626H164.67V627.9H166.02V629.7H167.38V631.5H168.74V632.3Z"/>
</g>
<g id="axes" stroke="#3a3a3c" stroke-width="1.15" fill="none" stroke-linecap="butt">
<path stroke="#858588" stroke-width="2" d="M40 0.5H651.9"/>
<path stroke="#48484a" stroke-width="1.3" d="M40.5 0V632.9M244.3 0V632.9M447.9 0V475.1M651.4 0V475.1"/>
<path stroke="#525254" stroke-width="1.8" d="M39.9 158.9H652.05"/>
<path stroke="#525254" stroke-width="1.8" d="M39.9 316.9H652.05"/>
<path stroke="#454547" stroke-width="1.3" d="M39.9 474.5H652.05"/>
<path stroke="#454547" stroke-width="1.3" d="M39.9 632.3H244.65"/>
<path stroke-width="1.05" d="M54.07 158.9v-3.2M54.07 0.6v3.2M67.64 158.9v-3.2M67.64 0.6v3.2M81.21 158.9v-3.2M81.21 0.6v3.2M94.78 158.9v-3.2M94.78 0.6v3.2M108.35 158.9v-6.3M108.35 0.6v6.3M121.92 158.9v-3.2M121.92 0.6v3.2M135.49 158.9v-3.2M135.49 0.6v3.2M149.06 158.9v-3.2M149.06 0.6v3.2M162.63 158.9v-3.2M162.63 0.6v3.2M176.2 158.9v-6.3M176.2 0.6v6.3M189.77 158.9v-3.2M189.77 0.6v3.2M203.34 158.9v-3.2M203.34 0.6v3.2M216.91 158.9v-3.2M216.91 0.6v3.2M230.48 158.9v-3.2M230.48 0.6v3.2M40.5 143.07h3.2M244.05 143.07h-3.2M40.5 127.24h6.3M244.05 127.24h-6.3M40.5 111.41h3.2M244.05 111.41h-3.2M40.5 95.58h6.3M244.05 95.58h-6.3M40.5 79.75h3.2M244.05 79.75h-3.2M40.5 63.92h6.3M244.05 63.92h-6.3M40.5 48.09h3.2M244.05 48.09h-3.2M40.5 32.26h6.3M244.05 32.26h-6.3M40.5 16.43h3.2M244.05 16.43h-3.2M54.07 316.9v-3.2M54.07 158.9v3.2M67.64 316.9v-3.2M67.64 158.9v3.2M81.21 316.9v-3.2M81.21 158.9v3.2M94.78 316.9v-3.2M94.78 158.9v3.2M108.35 316.9v-6.3M108.35 158.9v6.3M121.92 316.9v-3.2M121.92 158.9v3.2M135.49 316.9v-3.2M135.49 158.9v3.2M149.06 316.9v-3.2M149.06 158.9v3.2M162.63 316.9v-3.2M162.63 158.9v3.2M176.2 316.9v-6.3M176.2 158.9v6.3M189.77 316.9v-3.2M189.77 158.9v3.2M203.34 316.9v-3.2M203.34 158.9v3.2M216.91 316.9v-3.2M216.91 158.9v3.2M230.48 316.9v-3.2M230.48 158.9v3.2M40.5 301.1h3.2M244.05 301.1h-3.2M40.5 285.3h6.3M244.05 285.3h-6.3M40.5 269.5h3.2M244.05 269.5h-3.2M40.5 253.7h6.3M244.05 253.7h-6.3M40.5 237.9h3.2M244.05 237.9h-3.2M40.5 222.1h6.3M244.05 222.1h-6.3M40.5 206.3h3.2M244.05 206.3h-3.2M40.5 190.5h6.3M244.05 190.5h-6.3M40.5 174.7h3.2M244.05 174.7h-3.2M54.07 474.5v-3.2M54.07 316.9v3.2M67.64 474.5v-3.2M67.64 316.9v3.2M81.21 474.5v-3.2M81.21 316.9v3.2M94.78 474.5v-3.2M94.78 316.9v3.2M108.35 474.5v-6.3M108.35 316.9v6.3M121.92 474.5v-3.2M121.92 316.9v3.2M135.49 474.5v-3.2M135.49 316.9v3.2M149.06 474.5v-3.2M149.06 316.9v3.2M162.63 474.5v-3.2M162.63 316.9v3.2M176.2 474.5v-6.3M176.2 316.9v6.3M189.77 474.5v-3.2M189.77 316.9v3.2M203.34 474.5v-3.2M203.34 316.9v3.2M216.91 474.5v-3.2M216.91 316.9v3.2M230.48 474.5v-3.2M230.48 316.9v3.2M40.5 458.74h3.2M244.05 458.74h-3.2M40.5 442.98h6.3M244.05 442.98h-6.3M40.5 427.22h3.2M244.05 427.22h-3.2M40.5 411.46h6.3M244.05 411.46h-6.3M40.5 395.7h3.2M244.05 395.7h-3.2M40.5 379.94h6.3M244.05 379.94h-6.3M40.5 364.18h3.2M244.05 364.18h-3.2M40.5 348.42h6.3M244.05 348.42h-6.3M40.5 332.66h3.2M244.05 332.66h-3.2M54.07 632.3v-3.2M54.07 474.5v3.2M67.64 632.3v-3.2M67.64 474.5v3.2M81.21 632.3v-3.2M81.21 474.5v3.2M94.78 632.3v-3.2M94.78 474.5v3.2M108.35 632.3v-6.3M108.35 474.5v6.3M121.92 632.3v-3.2M121.92 474.5v3.2M135.49 632.3v-3.2M135.49 474.5v3.2M149.06 632.3v-3.2M149.06 474.5v3.2M162.63 632.3v-3.2M162.63 474.5v3.2M176.2 632.3v-6.3M176.2 474.5v6.3M189.77 632.3v-3.2M189.77 474.5v3.2M203.34 632.3v-3.2M203.34 474.5v3.2M216.91 632.3v-3.2M216.91 474.5v3.2M230.48 632.3v-3.2M230.48 474.5v3.2M40.5 616.52h3.2M244.05 616.52h-3.2M40.5 600.74h6.3M244.05 600.74h-6.3M40.5 584.96h3.2M244.05 584.96h-3.2M40.5 569.18h6.3M244.05 569.18h-6.3M40.5 553.4h3.2M244.05 553.4h-3.2M40.5 537.62h6.3M244.05 537.62h-6.3M40.5 521.84h3.2M244.05 521.84h-3.2M40.5 506.06h6.3M244.05 506.06h-6.3M40.5 490.28h3.2M244.05 490.28h-3.2M257.87 158.9v-3.2M257.87 0.6v3.2M271.44 158.9v-3.2M271.44 0.6v3.2M285.01 158.9v-3.2M285.01 0.6v3.2M298.58 158.9v-3.2M298.58 0.6v3.2M312.15 158.9v-6.3M312.15 0.6v6.3M325.72 158.9v-3.2M325.72 0.6v3.2M339.29 158.9v-3.2M339.29 0.6v3.2M352.86 158.9v-3.2M352.86 0.6v3.2M366.43 158.9v-3.2M366.43 0.6v3.2M380 158.9v-6.3M380 0.6v6.3M393.57 158.9v-3.2M393.57 0.6v3.2M407.14 158.9v-3.2M407.14 0.6v3.2M420.71 158.9v-3.2M420.71 0.6v3.2M434.28 158.9v-3.2M434.28 0.6v3.2M244.3 143.07h3.2M447.85 143.07h-3.2M244.3 127.24h6.3M447.85 127.24h-6.3M244.3 111.41h3.2M447.85 111.41h-3.2M244.3 95.58h6.3M447.85 95.58h-6.3M244.3 79.75h3.2M447.85 79.75h-3.2M244.3 63.92h6.3M447.85 63.92h-6.3M244.3 48.09h3.2M447.85 48.09h-3.2M244.3 32.26h6.3M447.85 32.26h-6.3M244.3 16.43h3.2M447.85 16.43h-3.2M257.87 316.9v-3.2M257.87 158.9v3.2M271.44 316.9v-3.2M271.44 158.9v3.2M285.01 316.9v-3.2M285.01 158.9v3.2M298.58 316.9v-3.2M298.58 158.9v3.2M312.15 316.9v-6.3M312.15 158.9v6.3M325.72 316.9v-3.2M325.72 158.9v3.2M339.29 316.9v-3.2M339.29 158.9v3.2M352.86 316.9v-3.2M352.86 158.9v3.2M366.43 316.9v-3.2M366.43 158.9v3.2M380 316.9v-6.3M380 158.9v6.3M393.57 316.9v-3.2M393.57 158.9v3.2M407.14 316.9v-3.2M407.14 158.9v3.2M420.71 316.9v-3.2M420.71 158.9v3.2M434.28 316.9v-3.2M434.28 158.9v3.2M244.3 301.1h3.2M447.85 301.1h-3.2M244.3 285.3h6.3M447.85 285.3h-6.3M244.3 269.5h3.2M447.85 269.5h-3.2M244.3 253.7h6.3M447.85 253.7h-6.3M244.3 237.9h3.2M447.85 237.9h-3.2M244.3 222.1h6.3M447.85 222.1h-6.3M244.3 206.3h3.2M447.85 206.3h-3.2M244.3 190.5h6.3M447.85 190.5h-6.3M244.3 174.7h3.2M447.85 174.7h-3.2M257.87 474.5v-3.2M257.87 316.9v3.2M271.44 474.5v-3.2M271.44 316.9v3.2M285.01 474.5v-3.2M285.01 316.9v3.2M298.58 474.5v-3.2M298.58 316.9v3.2M312.15 474.5v-6.3M312.15 316.9v6.3M325.72 474.5v-3.2M325.72 316.9v3.2M339.29 474.5v-3.2M339.29 316.9v3.2M352.86 474.5v-3.2M352.86 316.9v3.2M366.43 474.5v-3.2M366.43 316.9v3.2M380 474.5v-6.3M380 316.9v6.3M393.57 474.5v-3.2M393.57 316.9v3.2M407.14 474.5v-3.2M407.14 316.9v3.2M420.71 474.5v-3.2M420.71 316.9v3.2M434.28 474.5v-3.2M434.28 316.9v3.2M244.3 458.74h3.2M447.85 458.74h-3.2M244.3 442.98h6.3M447.85 442.98h-6.3M244.3 427.22h3.2M447.85 427.22h-3.2M244.3 411.46h6.3M447.85 411.46h-6.3M244.3 395.7h3.2M447.85 395.7h-3.2M244.3 379.94h6.3M447.85 379.94h-6.3M244.3 364.18h3.2M447.85 364.18h-3.2M244.3 348.42h6.3M447.85 348.42h-6.3M244.3 332.66h3.2M447.85 332.66h-3.2M461.47 158.9v-3.2M461.47 0.6v3.2M475.04 158.9v-3.2M475.04 0.6v3.2M488.61 158.9v-3.2M488.61 0.6v3.2M502.18 158.9v-3.2M502.18 0.6v3.2M515.75 158.9v-6.3M515.75 0.6v6.3M529.32 158.9v-3.2M529.32 0.6v3.2M542.89 158.9v-3.2M542.89 0.6v3.2M556.46 158.9v-3.2M556.46 0.6v3.2M570.03 158.9v-3.2M570.03 0.6v3.2M583.6 158.9v-6.3M583.6 0.6v6.3M597.17 158.9v-3.2M597.17 0.6v3.2M610.74 158.9v-3.2M610.74 0.6v3.2M624.31 158.9v-3.2M624.31 0.6v3.2M637.88 158.9v-3.2M637.88 0.6v3.2M447.9 143.07h3.2M651.45 143.07h-3.2M447.9 127.24h6.3M651.45 127.24h-6.3M447.9 111.41h3.2M651.45 111.41h-3.2M447.9 95.58h6.3M651.45 95.58h-6.3M447.9 79.75h3.2M651.45 79.75h-3.2M447.9 63.92h6.3M651.45 63.92h-6.3M447.9 48.09h3.2M651.45 48.09h-3.2M447.9 32.26h6.3M651.45 32.26h-6.3M447.9 16.43h3.2M651.45 16.43h-3.2M461.47 316.9v-3.2M461.47 158.9v3.2M475.04 316.9v-3.2M475.04 158.9v3.2M488.61 316.9v-3.2M488.61 158.9v3.2M502.18 316.9v-3.2M502.18 158.9v3.2M515.75 316.9v-6.3M515.75 158.9v6.3M529.32 316.9v-3.2M529.32 158.9v3.2M542.89 316.9v-3.2M542.89 158.9v3.2M556.46 316.9v-3.2M556.46 158.9v3.2M570.03 316.9v-3.2M570.03 158.9v3.2M583.6 316.9v-6.3M583.6 158.9v6.3M597.17 316.9v-3.2M597.17 158.9v3.2M610.74 316.9v-3.2M610.74 158.9v3.2M624.31 316.9v-3.2M624.31 158.9v3.2M637.88 316.9v-3.2M637.88 158.9v3.2M447.9 301.1h3.2M651.45 301.1h-3.2M447.9 285.3h6.3M651.45 285.3h-6.3M447.9 269.5h3.2M651.45 269.5h-3.2M447.9 253.7h6.3M651.45 253.7h-6.3M447.9 237.9h3.2M651.45 237.9h-3.2M447.9 222.1h6.3M651.45 222.1h-6.3M447.9 206.3h3.2M651.45 206.3h-3.2M447.9 190.5h6.3M651.45 190.5h-6.3M447.9 174.7h3.2M651.45 174.7h-3.2M461.47 474.5v-3.2M461.47 316.9v3.2M475.04 474.5v-3.2M475.04 316.9v3.2M488.61 474.5v-3.2M488.61 316.9v3.2M502.18 474.5v-3.2M502.18 316.9v3.2M515.75 474.5v-6.3M515.75 316.9v6.3M529.32 474.5v-3.2M529.32 316.9v3.2M542.89 474.5v-3.2M542.89 316.9v3.2M556.46 474.5v-3.2M556.46 316.9v3.2M570.03 474.5v-3.2M570.03 316.9v3.2M583.6 474.5v-6.3M583.6 316.9v6.3M597.17 474.5v-3.2M597.17 316.9v3.2M610.74 474.5v-3.2M610.74 316.9v3.2M624.31 474.5v-3.2M624.31 316.9v3.2M637.88 474.5v-3.2M637.88 316.9v3.2M447.9 458.74h3.2M651.45 458.74h-3.2M447.9 442.98h6.3M651.45 442.98h-6.3M447.9 427.22h3.2M651.45 427.22h-3.2M447.9 411.46h6.3M651.45 411.46h-6.3M447.9 395.7h3.2M651.45 395.7h-3.2M447.9 379.94h6.3M651.45 379.94h-6.3M447.9 364.18h3.2M651.45 364.18h-3.2M447.9 348.42h6.3M651.45 348.42h-6.3M447.9 332.66h3.2M651.45 332.66h-3.2"/>
</g>
<g id="labels" opacity="0.995">
<text x="231.35" y="22" font-size="9.6" text-anchor="end" letter-spacing="0.7" word-spacing="1.4" fill="#1c1c1e" stroke="#1c1c1e" stroke-width="0.12">81337</text>
<text x="435.45" y="22" font-size="9.6" text-anchor="end" letter-spacing="0.25" word-spacing="1.4" fill="#1c1c1e" stroke="#1c1c1e" stroke-width="0.12">2007 EV68</text>
<text x="639.05" y="22" font-size="9.6" text-anchor="end" letter-spacing="0.25" word-spacing="1.4" fill="#1c1c1e" stroke="#1c1c1e" stroke-width="0.12">2012 FM46</text>
<text x="231.35" y="180.3" font-size="9.6" text-anchor="end" letter-spacing="0.7" word-spacing="1.4" fill="#1c1c1e" stroke="#1c1c1e" stroke-width="0.12">271044</text>
<text x="435.45" y="180.3" font-size="9.6" text-anchor="end" letter-spacing="0.25" word-spacing="1.4" fill="#1c1c1e" stroke="#1c1c1e" stroke-width="0.12">2008 RA126</text>
<text x="639.05" y="180.3" font-size="9.6" text-anchor="end" letter-spacing="0.25" word-spacing="1.4" fill="#1c1c1e" stroke="#1c1c1e" stroke-width="0.12">2015 FN344</text>
<text x="231.35" y="338.3" font-size="9.6" text-anchor="end" letter-spacing="0.7" word-spacing="1.4" fill="#1c1c1e" stroke="#1c1c1e" stroke-width="0.12">286239</text>
<text x="435.45" y="338.3" font-size="9.6" text-anchor="end" letter-spacing="0.25" word-spacing="1.4" fill="#1c1c1e" stroke="#1c1c1e" stroke-width="0.12">2009 EL11</text>
<text x="639.05" y="338.3" font-size="9.6" text-anchor="end" letter-spacing="0.25" word-spacing="1.4" fill="#1c1c1e" stroke="#1c1c1e" stroke-width="0.12">2015 GH4</text>
<text x="230.85" y="495.9" font-size="9.6" text-anchor="end" letter-spacing="0.25" word-spacing="1.4" fill="#1c1c1e" stroke="#1c1c1e" stroke-width="0.12">2008 EK72</text>
<text transform="translate(31.9 159.4) rotate(-90) scale(1.1 1)" font-size="12.6" text-anchor="middle">0</text>
<text transform="translate(31.9 127.74) rotate(-90) scale(1.1 1)" font-size="12.6" text-anchor="middle">0.2</text>
<text transform="translate(31.9 96.08) rotate(-90) scale(1.1 1)" font-size="12.6" text-anchor="middle">0.4</text>
<text transform="translate(31.9 64.42) rotate(-90) scale(1.1 1)" font-size="12.6" text-anchor="middle">0.6</text>
<text transform="translate(31.9 32.76) rotate(-90) scale(1.1 1)" font-size="12.6" text-anchor="middle">0.8</text>
<text transform="translate(31.9 1.1) rotate(-90) scale(1.1 1)" font-size="12.6" text-anchor="middle">1</text>
<text transform="translate(31.9 317.4) rotate(-90) scale(1.1 1)" font-size="12.6" text-anchor="middle">0</text>
<text transform="translate(31.9 285.8) rotate(-90) scale(1.1 1)" font-size="12.6" text-anchor="middle">0.2</text>
<text transform="translate(31.9 254.2) rotate(-90) scale(1.1 1)" font-size="12.6" text-anchor="middle">0.4</text>
<text transform="translate(31.9 222.6) rotate(-90) scale(1.1 1)" font-size="12.6" text-anchor="middle">0.6</text>
<text transform="translate(31.9 191) rotate(-90) scale(1.1 1)" font-size="12.6" text-anchor="middle">0.8</text>
<text transform="translate(31.9 475) rotate(-90) scale(1.1 1)" font-size="12.6" text-anchor="middle">0</text>
<text transform="translate(31.9 443.48) rotate(-90) scale(1.1 1)" font-size="12.6" text-anchor="middle">0.2</text>
<text transform="translate(31.9 411.96) rotate(-90) scale(1.1 1)" font-size="12.6" text-anchor="middle">0.4</text>
<text transform="translate(31.9 380.44) rotate(-90) scale(1.1 1)" font-size="12.6" text-anchor="middle">0.6</text>
<text transform="translate(31.9 348.92) rotate(-90) scale(1.1 1)" font-size="12.6" text-anchor="middle">0.8</text>
<text transform="translate(31.9 632.8) rotate(-90) scale(1.1 1)" font-size="12.6" text-anchor="middle">0</text>
<text transform="translate(31.9 601.24) rotate(-90) scale(1.1 1)" font-size="12.6" text-anchor="middle">0.2</text>
<text transform="translate(31.9 569.68) rotate(-90) scale(1.1 1)" font-size="12.6" text-anchor="middle">0.4</text>
<text transform="translate(31.9 538.12) rotate(-90) scale(1.1 1)" font-size="12.6" text-anchor="middle">0.6</text>
<text transform="translate(31.9 506.56) rotate(-90) scale(1.1 1)" font-size="12.6" text-anchor="middle">0.8</text>
<text transform="translate(9.8 317) rotate(-90) scale(1.1 1)" font-size="12.4" text-anchor="middle" letter-spacing="0.17" word-spacing="0.6">Normalized number of trials</text>
<text transform="translate(40.8 648) scale(1.13 1)" font-size="12.6" text-anchor="middle">0</text>
<text transform="translate(108.65 648) scale(1.13 1)" font-size="12.6" text-anchor="middle">500</text>
<text transform="translate(176.5 648) scale(1.13 1)" font-size="12.6" text-anchor="middle">1000</text>
<text transform="translate(244.35 648) scale(1.13 1)" font-size="12.6" text-anchor="middle">1500</text>
<text transform="translate(142.78 663.2) scale(1.1 1)" font-size="12.6" text-anchor="middle" word-spacing="1.2">Age (kyr)</text>
<text transform="translate(252.1 490.2) scale(1.13 1)" font-size="12.6" text-anchor="middle">0</text>
<text transform="translate(312.45 490.2) scale(1.13 1)" font-size="12.6" text-anchor="middle">500</text>
<text transform="translate(380.3 490.2) scale(1.13 1)" font-size="12.6" text-anchor="middle">1000</text>
<text transform="translate(346.58 505.4) scale(1.1 1)" font-size="12.6" text-anchor="middle" word-spacing="1.2">Age (kyr)</text>
<text transform="translate(448.2 490.2) scale(1.13 1)" font-size="12.6" text-anchor="middle">0</text>
<text transform="translate(516.05 490.2) scale(1.13 1)" font-size="12.6" text-anchor="middle">500</text>
<text transform="translate(583.9 490.2) scale(1.13 1)" font-size="12.6" text-anchor="middle">1000</text>
<text transform="translate(651.75 490.2) scale(1.13 1)" font-size="12.6" text-anchor="middle">1500</text>
<text transform="translate(550.17 505.4) scale(1.1 1)" font-size="12.6" text-anchor="middle" word-spacing="1.2">Age (kyr)</text>
</g>
</svg>
</body></html>
